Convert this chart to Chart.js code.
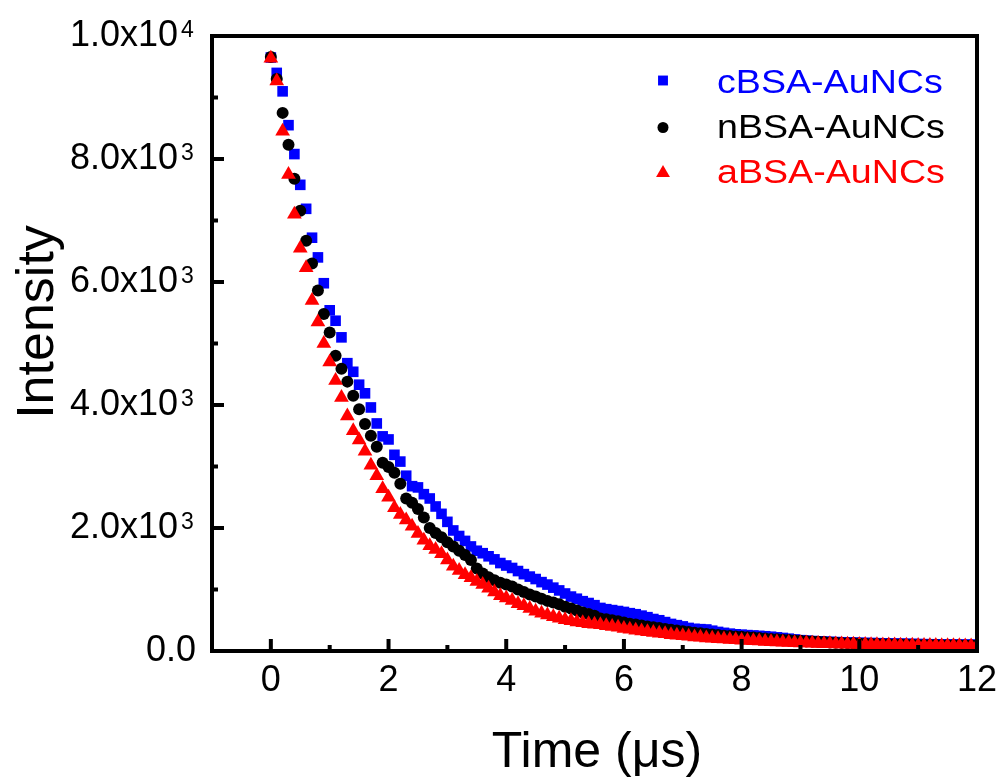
<!DOCTYPE html>
<html>
<head>
<meta charset="utf-8">
<script src="https://cdn.jsdelivr.net/npm/chart.js@4/dist/chart.umd.min.js"></script>
<style>
  html, body { margin: 0; padding: 0; background: #fff; }
</style>
</head>
<body>
<canvas id="myChart" width="1001" height="782"></canvas>
<script>
// time axis (us), one channel every 0.1 us
const time = [
  0, 0.1, 0.2, 0.3, 0.4, 0.5, 0.6, 0.7, 0.8, 0.9,
  1, 1.1, 1.2, 1.3, 1.4, 1.5, 1.6, 1.7, 1.8, 1.9,
  2, 2.1, 2.2, 2.3, 2.4, 2.5, 2.6, 2.7, 2.8, 2.9,
  3, 3.1, 3.2, 3.3, 3.4, 3.5, 3.6, 3.7, 3.8, 3.9,
  4, 4.1, 4.2, 4.3, 4.4, 4.5, 4.6, 4.7, 4.8, 4.9,
  5, 5.1, 5.2, 5.3, 5.4, 5.5, 5.6, 5.7, 5.8, 5.9,
  6, 6.1, 6.2, 6.3, 6.4, 6.5, 6.6, 6.7, 6.8, 6.9,
  7, 7.1, 7.2, 7.3, 7.4, 7.5, 7.6, 7.7, 7.8, 7.9,
  8, 8.1, 8.2, 8.3, 8.4, 8.5, 8.6, 8.7, 8.8, 8.9,
  9, 9.1, 9.2, 9.3, 9.4, 9.5, 9.6, 9.7, 9.8, 9.9,
  10, 10.1, 10.2, 10.3, 10.4, 10.5, 10.6, 10.7, 10.8, 10.9,
  11, 11.1, 11.2, 11.3, 11.4, 11.5, 11.6, 11.7, 11.8, 11.9,
  12
];

const cBSA = [
  9650, 9400, 9100, 8550, 8080, 7580, 7190, 6720, 6400, 5980,
  5540, 5370, 5100, 4680, 4540, 4330, 4190, 3960, 3700, 3490,
  3440, 3190, 3080, 2850, 2680, 2660, 2550, 2480, 2350, 2230,
  2100, 1960, 1870, 1790, 1700, 1630, 1590, 1540, 1490, 1430,
  1390, 1350, 1300, 1250, 1210, 1170, 1120, 1080, 1030, 985,
  935, 885, 850, 810, 780, 745, 700, 680, 665, 650,
  635, 615, 598, 575, 550, 520, 500, 470, 440, 420,
  400, 375, 360, 355, 350, 330, 310, 295, 282, 272,
  265, 258, 252, 246, 240, 232, 222, 212, 200, 188,
  176, 168, 162, 157, 152, 148, 145, 142, 139, 136,
  133, 131, 129, 127, 125, 123, 121, 119, 117, 115,
  113, 111, 110, 109, 107, 106, 105, 104, 103, 102,
  101
];

const nBSA = [
  9660, 9300, 8750, 8230, 7680, 7160, 6670, 6300, 5860, 5480,
  5180, 4800, 4590, 4380, 4150, 3930, 3690, 3500, 3320, 3060,
  2990, 2900, 2720, 2480, 2410, 2310, 2170, 2000, 1920, 1850,
  1770, 1700, 1630, 1560, 1480, 1340, 1260, 1200, 1150, 1110,
  1080, 1050, 1000, 960, 920, 885, 850, 815, 790, 760,
  720, 690, 660, 625, 600, 575, 530, 515, 500, 485,
  465, 445, 430, 415, 400, 385, 372, 358, 345, 333,
  320, 308, 297, 287, 277, 268, 259, 250, 243, 236,
  230, 225, 218, 211, 204, 197, 190, 184, 178, 172,
  166, 160, 155, 150, 145, 140, 136, 132, 128, 124,
  121, 118, 115, 112, 110, 108, 106, 104, 102, 100,
  99, 98, 97, 96, 95, 94, 93, 92, 91, 90,
  90
];

const aBSA = [
  9640, 9270, 8450, 7750, 7100, 6550, 6230, 5700, 5350, 5000,
  4700, 4400, 4120, 3820, 3580, 3430, 3250, 3020, 2850, 2640,
  2500, 2330, 2220, 2130, 2030, 1910, 1800, 1710, 1650, 1580,
  1480, 1380, 1310, 1240, 1190, 1130, 1080, 1020, 960, 900,
  860, 820, 770, 735, 690, 645, 615, 585, 558, 533,
  510, 490, 472, 458, 445, 436, 428, 412, 398, 385,
  366, 352, 338, 327, 312, 301, 288, 279, 266, 258,
  246, 239, 228, 222, 212, 207, 198, 194, 187, 183,
  176, 171, 165, 161, 155, 151, 146, 143, 138, 135,
  131, 129, 125, 123, 119, 117, 114, 113, 110, 109,
  106, 105, 102, 101, 99, 98, 96, 95, 94, 93,
  90, 90, 88, 88, 86, 86, 84, 84, 82, 82,
  80
];

const seriesNames = ["cBSA-AuNCs", "nBSA-AuNCs", "aBSA-AuNCs"];
const xTicks = [0, 2, 4, 6, 8, 10, 12];
const xMinorTicks = [-1, 1, 3, 5, 7, 9, 11];
const yTicks = [0, 2000, 4000, 6000, 8000, 10000];
const yTickLabels = ["0.0", "2.0x10", "4.0x10", "6.0x10", "8.0x10", "1.0x10"];
const yTickExponents = ["", "3", "3", "3", "3", "4"];
const yMinorTicks = [1000, 3000, 5000, 7000, 9000];

const FONT = '"Liberation Sans", Arial, sans-serif';

const styles = [
  { color: "#0000ff", pointStyle: "rect", radius: 7.5, legendRadius: 7 },
  { color: "#000000", pointStyle: "circle", radius: 6, legendRadius: 5.5 },
  { color: "#ff0000", pointStyle: "triangle", radius: 8.5, legendRadius: 8 }
];

const toPoints = (vals) => time.map((t, i) => ({ x: t, y: vals[i] }));

const data = {
  datasets: [cBSA, nBSA, aBSA].map((vals, i) => ({
    label: seriesNames[i],
    data: toPoints(vals),
    showLine: false,
    pointStyle: styles[i].pointStyle,
    pointRadius: styles[i].radius,
    pointBorderWidth: 0,
    pointBackgroundColor: styles[i].color,
    order: 3 - i
  }))
};

// frame, inward ticks, exponents, axis titles and the in-plot legend
const decorations = {
  id: "decorations",
  afterDatasetsDraw(chart) {
    const { ctx, chartArea: a, scales } = chart;
    const x = scales.x, y = scales.y;
    ctx.save();
    ctx.strokeStyle = "#000";
    ctx.lineWidth = 4;
    ctx.lineCap = "butt";
    ctx.beginPath();
    xTicks.forEach(v => { const p = x.getPixelForValue(v); ctx.moveTo(p, a.bottom); ctx.lineTo(p, a.bottom - 12); });
    xMinorTicks.forEach(v => { const p = x.getPixelForValue(v); ctx.moveTo(p, a.bottom); ctx.lineTo(p, a.bottom - 6); });
    yTicks.forEach(v => { const p = y.getPixelForValue(v); ctx.moveTo(a.left, p); ctx.lineTo(a.left + 12, p); });
    yMinorTicks.forEach(v => { const p = y.getPixelForValue(v); ctx.moveTo(a.left, p); ctx.lineTo(a.left + 6, p); });
    ctx.stroke();
    ctx.strokeRect(a.left, a.top, a.right - a.left, a.bottom - a.top);

    // exponents of the y tick labels
    ctx.fillStyle = "#000";
    ctx.font = "23px " + FONT;
    ctx.textAlign = "left";
    ctx.textBaseline = "alphabetic";
    yTicks.forEach((v, i) => {
      if (yTickExponents[i]) ctx.fillText(yTickExponents[i], 181, y.getPixelForValue(v) + 1);
    });

    // axis titles
    ctx.font = "50px " + FONT;
    ctx.textAlign = "center";
    ctx.fillText("Time (μs)", 597, 767);
    ctx.save();
    ctx.translate(53, 322);
    ctx.rotate(-Math.PI / 2);
    ctx.font = "52px " + FONT;
    ctx.fillText("Intensity", 0, 0);
    ctx.restore();

    // legend
    const markerY = [80.5, 127.5, 173];
    const textY = [93, 138, 183];
    ctx.textAlign = "left";
    ctx.font = "33px " + FONT;
    styles.forEach((s, i) => {
      ctx.fillStyle = s.color;
      Chart.helpers.drawPoint(ctx, { pointStyle: s.pointStyle, radius: s.legendRadius, borderWidth: 0, rotation: 0 }, 663, markerY[i]);
      ctx.save();
      ctx.translate(717, textY[i]);
      ctx.scale(1.14, 1);
      ctx.fillText(seriesNames[i], 0, 0);
      ctx.restore();
    });
    ctx.restore();
  }
};

const tickFont = { family: FONT, size: 36 };

const config = {
  type: "scatter",
  data: data,
  options: {
    responsive: false,
    animation: false,
    devicePixelRatio: 1,
    layout: { padding: { top: 36, right: 24, left: 0, bottom: 0 } },
    plugins: { legend: { display: false }, tooltip: { enabled: false } },
    scales: {
      x: {
        type: "linear",
        min: -1,
        max: 12,
        afterBuildTicks: s => { s.ticks = xTicks.map(v => ({ value: v })); },
        afterFit: s => { s.height = 131; s.paddingLeft = 0; s.paddingRight = 0; },
        grid: { display: false, drawTicks: false },
        border: { display: false },
        ticks: { font: tickFont, color: "#000", padding: 8, maxRotation: 0, autoSkip: false }
      },
      y: {
        type: "linear",
        min: 0,
        max: 10000,
        afterBuildTicks: s => { s.ticks = yTicks.map(v => ({ value: v })); },
        afterFit: s => { s.width = 212; s.paddingTop = 0; s.paddingBottom = 0; },
        grid: { display: false, drawTicks: false },
        border: { display: false },
        ticks: {
          font: tickFont,
          color: "#000",
          padding: 16,
          autoSkip: false,
          // an en space leaves room for the exponent drawn by the plugin
          callback: v => {
            const i = yTicks.indexOf(v);
            return yTickLabels[i] + (yTickExponents[i] ? "\u2002" : "");
          }
        }
      }
    }
  },
  plugins: [decorations]
};

const myChart = new Chart(document.getElementById("myChart").getContext("2d"), config);
</script>
</body>
</html>
